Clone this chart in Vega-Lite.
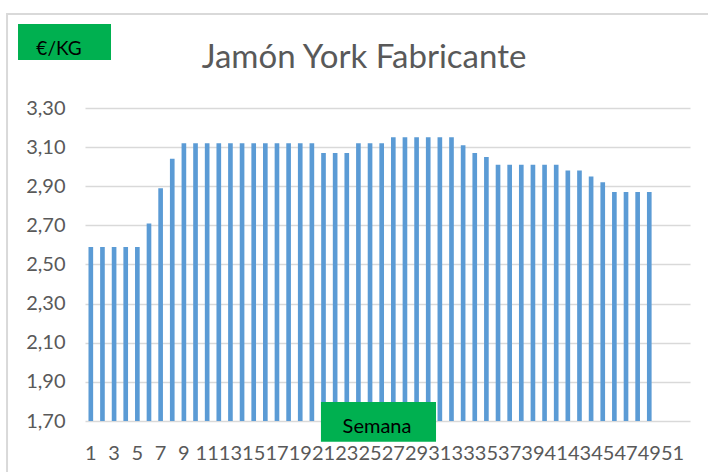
{
  "$schema": "https://vega.github.io/schema/vega-lite/v6.json",
  "width": 605,
  "height": 313,
  "autosize": {"type": "none"},
  "padding": {"left": 85, "top": 108, "right": 18, "bottom": 51},
  "background": "white",
  "config": {"view": {"stroke": null}, "font": "Lato"},
  "datasets": {
    "prices": [
      {"week": 1, "price": 2.59}, {"week": 2, "price": 2.59}, {"week": 3, "price": 2.59}, {"week": 4, "price": 2.59}, {"week": 5, "price": 2.59},
      {"week": 6, "price": 2.71}, {"week": 7, "price": 2.89}, {"week": 8, "price": 3.04},
      {"week": 9, "price": 3.12}, {"week": 10, "price": 3.12}, {"week": 11, "price": 3.12}, {"week": 12, "price": 3.12},
      {"week": 13, "price": 3.12}, {"week": 14, "price": 3.12}, {"week": 15, "price": 3.12}, {"week": 16, "price": 3.12},
      {"week": 17, "price": 3.12}, {"week": 18, "price": 3.12}, {"week": 19, "price": 3.12}, {"week": 20, "price": 3.12},
      {"week": 21, "price": 3.07}, {"week": 22, "price": 3.07}, {"week": 23, "price": 3.07},
      {"week": 24, "price": 3.12}, {"week": 25, "price": 3.12}, {"week": 26, "price": 3.12},
      {"week": 27, "price": 3.15}, {"week": 28, "price": 3.15}, {"week": 29, "price": 3.15}, {"week": 30, "price": 3.15},
      {"week": 31, "price": 3.15}, {"week": 32, "price": 3.15},
      {"week": 33, "price": 3.11}, {"week": 34, "price": 3.07}, {"week": 35, "price": 3.05},
      {"week": 36, "price": 3.01}, {"week": 37, "price": 3.01}, {"week": 38, "price": 3.01}, {"week": 39, "price": 3.01},
      {"week": 40, "price": 3.01}, {"week": 41, "price": 3.01},
      {"week": 42, "price": 2.98}, {"week": 43, "price": 2.98}, {"week": 44, "price": 2.95}, {"week": 45, "price": 2.92},
      {"week": 46, "price": 2.87}, {"week": 47, "price": 2.87}, {"week": 48, "price": 2.87}, {"week": 49, "price": 2.87}
    ],
    "frame": [{"x": -6.2, "x2": 56, "y": 3.781, "y2": 1.2}],
    "boxes": [
      {"x": -5.258, "x2": 2.735, "y": 3.7294, "y2": 3.5454},
      {"x": 20.78, "x2": 30.67, "y": 1.797, "y2": 1.594}
    ],
    "titleText": [{"x": 24.48, "y": 3.5045, "label": "Jamón York Fabricante"}],
    "unitText": [{"x": -1.735, "y": 3.571, "label": "€/KG"}],
    "axisText": [{"x": 25.6, "y": 1.64, "label": "Semana"}]
  },
  "layer": [
    {
      "data": {"name": "frame"},
      "mark": {"type": "rect", "fill": null, "stroke": "#d9d9d9", "strokeWidth": 2, "clip": false},
      "encoding": {
        "x": {"field": "x", "type": "quantitative", "scale": {"domain": [0.5, 52.5], "nice": false, "zero": false}, "axis": null},
        "x2": {"field": "x2"},
        "y": {"field": "y", "type": "quantitative", "scale": {"domain": [1.7, 3.3], "nice": false, "zero": false}, "axis": null},
        "y2": {"field": "y2"}
      }
    },
    {
      "data": {"name": "prices"},
      "mark": {"type": "bar", "color": "#5B9BD5"},
      "encoding": {
        "x": {
          "field": "week", "type": "ordinal",
          "scale": {"domain": [1,2,3,4,5,6,7,8,9,10,11,12,13,14,15,16,17,18,19,20,21,22,23,24,25,26,27,28,29,30,31,32,33,34,35,36,37,38,39,40,41,42,43,44,45,46,47,48,49,50,51,52], "paddingInner": 0.6, "paddingOuter": 0.3},
          "axis": {
            "title": null, "labelAngle": 0, "labelOverlap": false, "ticks": false, "domain": false,
            "labelExpr": "datum.value % 2 == 1 ? datum.label : ''",
            "labelFont": "Lato", "labelFontSize": 20, "labelColor": "#595959", "labelPadding": 22
          }
        },
        "y": {
          "field": "price", "type": "quantitative",
          "scale": {"domain": [1.7, 3.3], "nice": false, "zero": false},
          "axis": {
            "title": null, "values": [1.7, 1.9, 2.1, 2.3, 2.5, 2.7, 2.9, 3.1, 3.3],
            "labelExpr": "replace(format(datum.value, '.2f'), '.', ',')",
            "ticks": false, "domain": false, "grid": true, "gridColor": "#d9d9d9", "gridWidth": 1.5,
            "labelFont": "Lato", "labelFontSize": 20, "labelColor": "#595959", "labelPadding": 20
          }
        },
        "y2": {"datum": 1.7}
      }
    },
    {
      "data": {"name": "boxes"},
      "mark": {"type": "rect", "fill": "#00B050", "clip": false},
      "encoding": {
        "x": {"field": "x", "type": "quantitative", "scale": {"domain": [0.5, 52.5], "nice": false, "zero": false}, "axis": null},
        "x2": {"field": "x2"},
        "y": {"field": "y", "type": "quantitative", "scale": {"domain": [1.7, 3.3], "nice": false, "zero": false}, "axis": null},
        "y2": {"field": "y2"}
      }
    },
    {
      "data": {"name": "titleText"},
      "mark": {"type": "text", "font": "Lato", "fontSize": 33, "color": "#595959", "align": "center", "baseline": "alphabetic"},
      "encoding": {
        "x": {"field": "x", "type": "quantitative", "scale": {"domain": [0.5, 52.5], "nice": false, "zero": false}, "axis": null},
        "y": {"field": "y", "type": "quantitative", "scale": {"domain": [1.7, 3.3], "nice": false, "zero": false}, "axis": null},
        "text": {"field": "label"}
      }
    },
    {
      "data": {"name": "unitText"},
      "mark": {"type": "text", "font": "Lato", "fontSize": 19, "color": "#000000", "align": "center", "baseline": "alphabetic"},
      "encoding": {
        "x": {"field": "x", "type": "quantitative", "scale": {"domain": [0.5, 52.5], "nice": false, "zero": false}, "axis": null},
        "y": {"field": "y", "type": "quantitative", "scale": {"domain": [1.7, 3.3], "nice": false, "zero": false}, "axis": null},
        "text": {"field": "label"}
      }
    },
    {
      "data": {"name": "axisText"},
      "mark": {"type": "text", "font": "Lato", "fontSize": 20, "color": "#000000", "align": "center", "baseline": "alphabetic"},
      "encoding": {
        "x": {"field": "x", "type": "quantitative", "scale": {"domain": [0.5, 52.5], "nice": false, "zero": false}, "axis": null},
        "y": {"field": "y", "type": "quantitative", "scale": {"domain": [1.7, 3.3], "nice": false, "zero": false}, "axis": null},
        "text": {"field": "label"}
      }
    }
  ],
  "resolve": {"scale": {"x": "independent", "y": "independent"}, "axis": {"x": "independent", "y": "independent"}}
}
